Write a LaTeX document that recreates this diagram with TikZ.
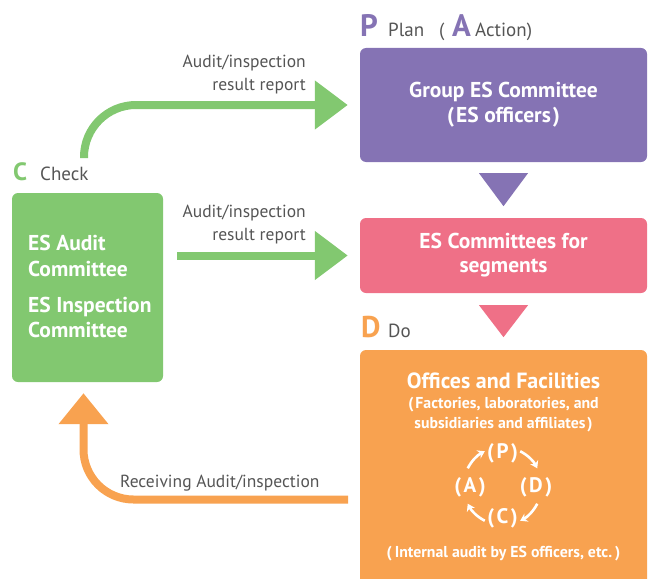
\documentclass[tikz,border=0pt]{standalone}
\usepackage{fontspec}
\setmainfont{PT Sans}
\usetikzlibrary{arrows.meta,calc}
\definecolor{cpurple}{HTML}{8573B4}
\definecolor{cpink}{HTML}{EF7087}
\definecolor{corange}{HTML}{F8A250}
\definecolor{cgreen}{HTML}{82C870}
\definecolor{cgray}{HTML}{555555}
\tikzset{
  box/.style={rounded corners=6pt, draw=none, inner sep=0pt, text=white, align=center},
  lbl/.style={inner sep=0pt, text=cgray, font=\fontsize{17.5}{23}\selectfont, align=right},
  bigletter/.style={inner sep=0pt, font=\fontsize{31}{31}\selectfont\bfseries, anchor=base west},
  steplbl/.style={inner sep=0pt, text=cgray, font=\fontsize{19}{19}\selectfont, anchor=base west},
  garrow/.style={draw=cgreen, line width=8pt, -{Triangle[length=33pt,width=47pt]}},
  oarrow/.style={draw=corange, line width=8pt, -{Triangle[length=31pt,width=48pt]}},
  cycarrow/.style={draw=white, line width=2.6pt, -{Stealth[length=7pt,width=9pt]}},
  cyclbl/.style={inner sep=0pt, text=white, font=\fontsize{21}{21}\selectfont\bfseries},
  wtext/.style={inner sep=0pt, text=white},
}
\begin{document}
\begin{tikzpicture}[x=1pt,y=-1pt]
\useasboundingbox (0,0) rectangle (652,578);
\clip (0,0) rectangle (652,578);

% boxes
\node[box, fill=cpurple, minimum width=287pt, minimum height=114pt,
      font=\fontsize{21.5}{25}\selectfont\bfseries] (plan) at (503.5,105)
      {Group ES Committee\\(\hspace{2pt}ES officers\hspace{2pt})};
\node[box, fill=cpink, minimum width=287pt, minimum height=75pt,
      font=\fontsize{21.5}{24}\selectfont\bfseries] (seg) at (503.5,255.5)
      {ES Committees for\\segments};
\node[box, fill=corange, minimum width=287pt, minimum height=260pt] (do) at (503.5,480) {};
\node[box, fill=cgreen, minimum width=151pt, minimum height=189pt] (check) at (87.5,287.5) {};

% green box text
\node[wtext, anchor=base west, align=left,
      font=\fontsize{21.5}{26}\selectfont\bfseries] (audit) at (28,276)
      {ES Audit\\Committee};
\node[wtext, anchor=base west, align=left,
      font=\fontsize{21.5}{25}\selectfont\bfseries] (insp) at (28,337)
      {ES Inspection\\Committee};

% orange box text
\node[wtext, anchor=base, font=\fontsize{22}{22}\selectfont\bfseries] (off) at (503.5,388)
      {Offices and Facilities};
\node[wtext, anchor=base, align=center,
      font=\fontsize{15.8}{20}\selectfont\bfseries] (fac) at (503.5,428)
      {(\hspace{2pt}Factories, laboratories, and\\subsidiaries and affiliates\hspace{2pt})};
\node[wtext, anchor=base, font=\fontsize{15.8}{20}\selectfont\bfseries] (intl) at (503.5,557)
      {(\hspace{3pt}Internal audit by ES officers, etc.\hspace{3pt})};

% cycle
\coordinate (cyc) at (502.5,486);
\node[cyclbl] (cP) at (502.5,453) {(\hspace{2.5pt}P\hspace{2.5pt})};
\node[cyclbl] (cD) at (536,487) {(\hspace{2.5pt}D\hspace{2.5pt})};
\node[cyclbl] (cC) at (502.5,518) {(\hspace{2.5pt}C\hspace{2.5pt})};
\node[cyclbl] (cA) at (470,487) {(\hspace{2.5pt}A\hspace{2.5pt})};
\draw[cycarrow] ($(cyc)+(-153:39)$) arc[start angle=-153, end angle=-117, radius=39];
\draw[cycarrow] ($(cyc)+(-63:39)$) arc[start angle=-63, end angle=-27, radius=39];
\draw[cycarrow] ($(cyc)+(27:39)$) arc[start angle=27, end angle=63, radius=39];
\draw[cycarrow] ($(cyc)+(117:39)$) arc[start angle=117, end angle=153, radius=39];

% headings
\node[bigletter, text=cpurple] (Pl) at (360,37) {P};
\node[steplbl] (plan lbl) at (388,37) {Plan};
\node[steplbl] (lpar) at (439,37) {(};
\node[bigletter, text=cpurple] (Al) at (452,37) {A};
\node[steplbl] (act lbl) at (475,37) {Action)};
\node[bigletter, text=cgreen, font=\fontsize{25}{25}\selectfont\bfseries] (Cl) at (13,180) {C};
\node[steplbl] (chk lbl) at (40,180) {Check};
\node[bigletter, text=corange, font=\fontsize{30}{30}\selectfont\bfseries] (Dl) at (361,337) {D};
\node[steplbl] (do lbl) at (388,337) {Do};

% triangles
\fill[cpurple] ($(plan.south)+(-24.5,11)$) -- ($(plan.south)+(24.5,11)$) -- ($(plan.south)+(0,44)$) -- cycle;
\fill[cpink] ($(seg.south)+(-24.5,12)$) -- ($(seg.south)+(24.5,12)$) -- ($(seg.south)+(0,44)$) -- cycle;

% connectors
\coordinate (gstart) at (84,158);
\draw[garrow, rounded corners=52pt] (gstart) |- ($(plan.west)+(-12,0)$);
\draw[garrow] ($(check.east |- seg.west)+(14,0)$) -- ($(seg.west)+(-12,0)$);
\coordinate (ostart) at (348,499.5);
\draw[oarrow, rounded corners=50pt] (ostart) -| ($(check.south)+(-4,11)$);

% labels
\node[lbl, anchor=base east] (l1) at (306,90) {Audit/inspection\\result report};
\node[lbl, anchor=base east] (l2) at (306,240) {Audit/inspection\\result report};
\node[lbl, anchor=base west] (l3) at (120,487) {Receiving Audit/inspection};
\end{tikzpicture}
\end{document}
